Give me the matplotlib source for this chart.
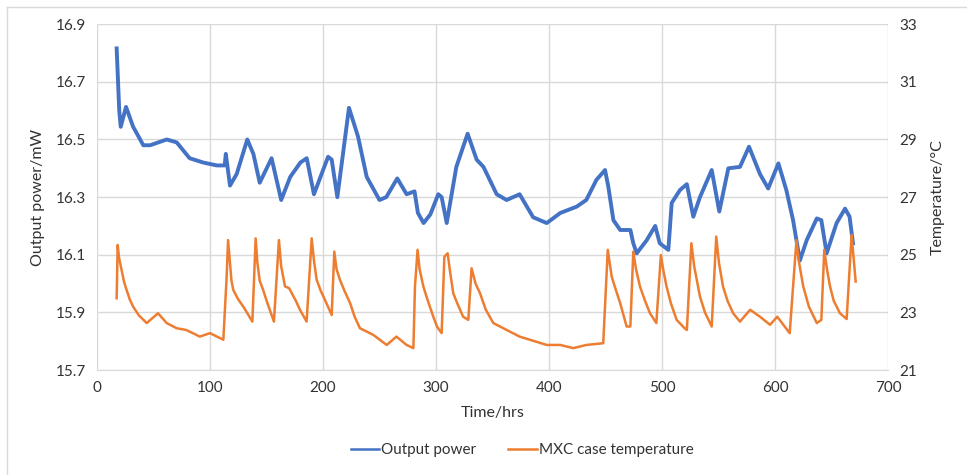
import matplotlib
matplotlib.use('Agg')
import matplotlib.pyplot as plt
from matplotlib.lines import Line2D

plt.rcParams['font.family'] = ['Lato', 'DejaVu Sans']

# output power (mW)
pt = [17.4, 19.7, 21, 25.7, 32, 41, 47, 61.7, 70.5, 82, 94, 106, 113, 114, 117.7, 123.6, 133,
      138.4, 144, 154.5, 163, 171, 180, 185.6, 192, 204.5, 207.7, 212.7, 223, 231, 238.7, 250,
      256, 265.7, 274, 281, 284, 289, 295, 302, 305, 309.5, 318, 328, 336, 342, 353.7, 362.5,
      374, 386, 398, 410, 424.5, 433, 442, 449.6, 452.5, 457, 463, 472, 474.6, 477.6, 486.4,
      494, 498, 505.6, 508.6, 516, 522, 527.7, 533.6, 544, 550.7, 558.7, 569, 577, 586.7, 594,
      603, 610, 616, 622, 628, 637, 641, 645.7, 654.5, 662, 666, 669]
power = [16.816, 16.60, 16.544, 16.613, 16.544, 16.48, 16.48, 16.50, 16.49, 16.435, 16.42, 16.41,
         16.41, 16.45, 16.34, 16.38, 16.50, 16.45, 16.35, 16.435, 16.29, 16.37, 16.42, 16.435,
         16.31, 16.44, 16.43, 16.30, 16.61, 16.51, 16.37, 16.29, 16.30, 16.365, 16.31, 16.32,
         16.245, 16.21, 16.24, 16.31, 16.30, 16.21, 16.405, 16.52, 16.43, 16.405, 16.31, 16.29,
         16.31, 16.23, 16.21, 16.245, 16.267, 16.29, 16.36, 16.394, 16.336, 16.22, 16.186, 16.186,
         16.14, 16.105, 16.15, 16.20, 16.14, 16.117, 16.28, 16.325, 16.345, 16.232, 16.30, 16.394,
         16.25, 16.40, 16.405, 16.475, 16.38, 16.33, 16.417, 16.325, 16.22, 16.08, 16.15, 16.226,
         16.22, 16.105, 16.21, 16.26, 16.232, 16.14]

# MXC case temperature (C)
tt = [17.4, 18.3, 19.5, 21.8, 24, 26.2, 29, 32, 37, 44, 54, 61.7, 70.5, 79, 91, 100, 111.8,
      114.7, 116, 117.5, 119, 120.6, 125, 129.5, 137.5,
      140.4, 142, 144, 147, 151, 156.6,
      161, 163, 166.4, 170, 176, 179.6, 185.5,
      190, 192, 194.4, 198, 201.8, 207.7,
      210, 212, 215, 219, 224, 228, 232.7, 244.5, 256.4, 265, 274, 280, 281.4,
      283.7, 285.5, 288.8, 292, 297.6, 301, 305, 307.4,
      310.3, 312.5, 315.3, 319, 324, 328.6,
      331.5, 335, 339, 344, 350.7, 362.6, 374, 398, 410, 421.5, 433, 448,
      452, 455.5, 459, 463, 468.7, 472,
      474.6, 477, 480.5, 485, 489.4, 495,
      499, 501, 504, 508, 513, 520, 522,
      526, 528.5, 533.6, 538, 544,
      548, 550.5, 554, 558, 563, 569, 578, 586.7, 595.6, 602, 613, 616,
      619, 621, 625, 630, 637, 641,
      643.6, 646, 648.7, 652, 657.5, 663.4, 667.8, 671.4]
temp = [23.49, 25.34, 24.9, 24.47, 24.05, 23.78, 23.45, 23.2, 22.9, 22.63, 22.97, 22.63, 22.45,
        22.39, 22.16, 22.28, 22.05,
        24.2, 25.51, 24.8, 24.1, 23.78, 23.45, 23.2, 22.68,
        25.57, 24.7, 24.1, 23.78, 23.3, 22.68,
        25.51, 24.6, 23.9, 23.84, 23.4, 23.09, 22.68,
        25.57, 24.8, 24.13, 23.75, 23.43, 22.91,
        25.11, 24.5, 24.13, 23.75, 23.32, 22.85, 22.45, 22.22, 21.87, 22.16, 21.87, 21.76, 23.9,
        25.17, 24.5, 23.9, 23.5, 22.85, 22.5, 22.28, 24.93,
        25.05, 24.4, 23.66, 23.3, 22.85, 22.74,
        24.53, 24.0, 23.66, 23.1, 22.63, 22.39, 22.16, 21.87, 21.87, 21.76, 21.87, 21.93,
        25.17, 24.24, 23.8, 23.32, 22.51, 22.51,
        25.11, 24.5, 23.9, 23.4, 22.97, 22.63,
        24.99, 24.5, 23.9, 23.3, 22.74, 22.45, 22.39,
        25.4, 24.6, 23.55, 23.0, 22.51,
        25.63, 24.7, 23.9, 23.4, 22.97, 22.68, 23.09, 22.85, 22.57, 22.85, 22.28, 23.9,
        25.51, 24.8, 23.9, 23.2, 22.63, 22.74,
        25.17, 24.5, 23.9, 23.4, 22.97, 22.77, 25.69, 24.07]

x_ticks = [0, 100, 200, 300, 400, 500, 600, 700]
p_ticks = [15.7, 15.9, 16.1, 16.3, 16.5, 16.7, 16.9]
t_ticks = [21, 23, 25, 27, 29, 31, 33]

fig = plt.figure(figsize=(9.67, 4.75), dpi=100)
ax = fig.add_axes([0.1003, 0.221, 0.818, 0.728])
ax2 = ax.twinx()

ax.plot(pt, power, color='#4472C4', lw=2.8)
ax2.plot(tt, temp, color='#ED7D31', lw=1.8)

ax.set_xlim(0, 700)
ax.set_ylim(15.7, 16.9)
ax2.set_ylim(21, 33)
ax.set_xticks(x_ticks)
ax.set_yticks(p_ticks)
ax.set_yticklabels(['%.1f' % v for v in p_ticks])
ax2.set_yticks(t_ticks)

ax.grid(True, color='#d9d9d9', lw=1)
ax.set_axisbelow(True)
for a in (ax, ax2):
    for s in a.spines.values():
        s.set_visible(False)
    a.tick_params(length=0, labelsize=11, colors='#333333', pad=8)
ax.spines['bottom'].set_visible(True)
ax.spines['bottom'].set_color('#d9d9d9')

ax.set_xlabel('Time/hrs', fontsize=11.5, color='#333333', labelpad=8)
ax.set_ylabel('Output power/mW', fontsize=11.5, color='#333333', labelpad=8)
ax2.set_ylabel('Temperature/°C', fontsize=11.5, color='#333333', labelpad=10)

# legend uses thin sample lines as in the original
h1 = Line2D([], [], color='#4472C4', lw=1.8)
h2 = Line2D([], [], color='#ED7D31', lw=1.8)
fig.legend(handles=[h1, h2], labels=['Output power', 'MXC case temperature'], loc='center',
           bbox_to_anchor=(0.54, 0.052), ncol=2, frameon=False, fontsize=11,
           handlelength=1.85, handletextpad=0.15, columnspacing=2.1, labelcolor='#333333')

# chart-area border (only left and top edges are visible in the original)
fig.lines.append(Line2D([0.007, 0.007], [0, 0.985], transform=fig.transFigure, color='#d9d9d9', lw=1))
fig.lines.append(Line2D([0.007, 1], [0.985, 0.985], transform=fig.transFigure, color='#d9d9d9', lw=1))

fig.savefig('out.png', dpi=100)
